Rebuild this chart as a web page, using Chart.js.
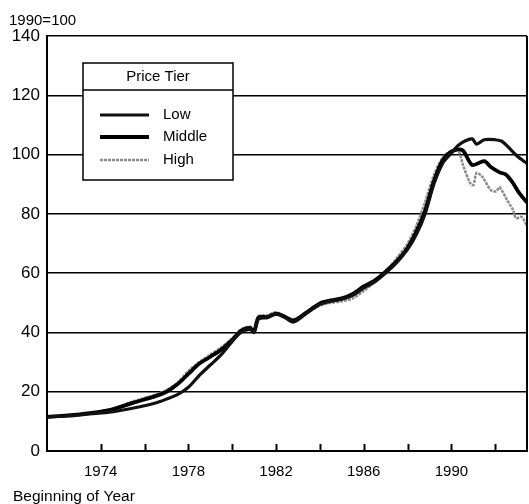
<!DOCTYPE html>
<html>
<head>
<meta charset="utf-8">
<script src="https://cdn.jsdelivr.net/npm/chart.js@4"></script>
<style>
  body { margin: 0; background: #fff; }
  #wrap { width: 529px; height: 504px; }
</style>
</head>
<body>
<div id="wrap"><canvas id="tierChart" width="529" height="504"></canvas></div>
<script>
// Price index by tier, 1990=100
const lowYears = [1971.55, 1972.5, 1973.5, 1974.5, 1975.5, 1976.5, 1977.0, 1977.5, 1978.0, 1978.5, 1979.0, 1979.5, 1980.0, 1980.4, 1980.8, 1981.0, 1981.2, 1981.6, 1982.0, 1982.4, 1982.8, 1983.4, 1984.0, 1984.5, 1985.0, 1985.5, 1986.0, 1986.5, 1987.0, 1987.5, 1988.0, 1988.4, 1988.8, 1989.2, 1989.6, 1990.0, 1990.3, 1990.6, 1990.95, 1991.15, 1991.5, 1992.0, 1992.3, 1992.6, 1993.0, 1993.45];
const lowValues = [11.5, 11.8, 12.5, 13.2, 14.5, 16.2, 17.5, 19.0, 21.5, 25.5, 29, 32.5, 37, 40, 41, 40, 44.5, 45, 46.3, 45, 43.5, 46.5, 49.5, 50.5, 51.2, 52.5, 55, 57, 60, 63.5, 68, 73, 80, 90, 97, 100.5, 103, 104.5, 105.3, 103.5, 105, 105, 104.5, 102.5, 99.5, 97];

const middleYears = [1971.55, 1972.5, 1973.5, 1974.5, 1975.5, 1976.5, 1977.0, 1977.5, 1978.0, 1978.5, 1979.0, 1979.5, 1980.0, 1980.4, 1980.8, 1981.0, 1981.2, 1981.6, 1982.0, 1982.4, 1982.8, 1983.4, 1984.0, 1984.5, 1985.0, 1985.5, 1986.0, 1986.5, 1987.0, 1987.5, 1988.0, 1988.4, 1988.8, 1989.2, 1989.6, 1990.0, 1990.5, 1990.95, 1991.5, 1991.8, 1992.2, 1992.5, 1992.8, 1993.1, 1993.45];
const middleValues = [11.5, 12, 12.8, 14, 16.3, 18.5, 20, 22.5, 26, 29.5, 31.8, 34.2, 37.5, 40.5, 41.5, 40.5, 45, 45.2, 46.3, 45.3, 44, 46.8, 49.8, 50.8, 51.5, 53, 55.5, 57.5, 60.5, 64, 68.5, 74, 81, 91, 98, 101, 101.5, 96.5, 97.8, 95.8, 94, 93.2, 90.5, 87, 83.8];

const highYears = [1971.55, 1972.5, 1973.5, 1974.5, 1975.5, 1976.5, 1977.0, 1977.5, 1978.0, 1978.5, 1979.0, 1979.5, 1980.0, 1980.4, 1980.8, 1981.0, 1981.2, 1981.6, 1982.0, 1982.4, 1982.8, 1983.4, 1984.0, 1984.5, 1985.0, 1985.5, 1986.0, 1986.5, 1987.0, 1987.5, 1988.0, 1988.4, 1988.8, 1989.2, 1989.6, 1990.0, 1990.3, 1990.55, 1990.85, 1991.0, 1991.15, 1991.4, 1991.8, 1992.05, 1992.2, 1992.55, 1992.8, 1992.95, 1993.2, 1993.45];
const highValues = [11.5, 12, 12.8, 14.2, 16.8, 19, 20.5, 23, 27, 30, 32.5, 35, 38, 41, 42, 41, 45.5, 45.8, 46.8, 45.5, 44.5, 46.5, 49, 50, 50.5, 51.5, 54, 57, 60.5, 65, 70, 76, 84, 93, 99, 101.3, 101.5, 96, 90.5, 89.7, 93.8, 92.6, 88, 87.6, 89, 84.5, 81.5, 78.5, 79, 75.8];

const tierLabels = ['Low', 'Middle', 'High'];
const tickYears = [1974, 1976, 1978, 1980, 1982, 1984, 1986, 1988, 1990, 1992];
const labelYears = [1974, 1978, 1982, 1986, 1990];
const yTicks = [0, 20, 40, 60, 80, 100, 120, 140];

const FONT = 'Liberation Sans, Arial, Helvetica, sans-serif';

function toPoints(xs, ys) {
    return xs.map((x, i) => ({ x: x, y: ys[i] }));
}

// Boxed legend, outer titles, inward ticks and right frame
const decorations = {
    id: 'decorations',
    afterDraw(chart) {
        const ctx = chart.ctx;
        const area = chart.chartArea;
        const xScale = chart.scales.x;
        ctx.save();

        // ticks pointing up from the x axis
        ctx.strokeStyle = '#000';
        ctx.lineWidth = 2;
        tickYears.forEach(yr => {
            const px = Math.round(xScale.getPixelForValue(yr)) + 0.5;
            ctx.beginPath();
            ctx.moveTo(px, area.bottom);
            ctx.lineTo(px, area.bottom - 7);
            ctx.stroke();
        });

        // right frame line
        ctx.lineWidth = 2;
        ctx.beginPath();
        ctx.moveTo(area.right, area.top);
        ctx.lineTo(area.right, area.bottom);
        ctx.stroke();

        // texts outside the plot
        ctx.fillStyle = '#000';
        ctx.font = '15px ' + FONT;
        ctx.textAlign = 'left';
        ctx.textBaseline = 'middle';
        ctx.fillText('1990=100', 9, 21);
        ctx.font = '15.5px ' + FONT;
        ctx.fillText('Beginning of Year', 13, 497);

        // legend box
        const bx = 83, by = 63, bw = 150, bh = 117;
        ctx.fillStyle = '#fff';
        ctx.fillRect(bx, by, bw, bh);
        ctx.strokeStyle = '#000';
        ctx.lineWidth = 1.5;
        ctx.strokeRect(bx, by, bw, bh);
        ctx.beginPath();
        ctx.moveTo(bx, by + 27);
        ctx.lineTo(bx + bw, by + 27);
        ctx.stroke();

        ctx.fillStyle = '#000';
        ctx.font = '15px ' + FONT;
        ctx.textAlign = 'center';
        ctx.fillText('Price Tier', bx + bw / 2, by + 14);

        const rows = [115, 137, 160];
        chart.data.datasets.forEach((ds, i) => {
            const y = rows[i];
            ctx.strokeStyle = ds.borderColor;
            ctx.lineWidth = ds.borderWidth;
            ctx.setLineDash(ds.borderDash || []);
            ctx.beginPath();
            ctx.moveTo(100, y);
            ctx.lineTo(149, y);
            ctx.stroke();
            ctx.setLineDash([]);
            ctx.fillStyle = '#000';
            ctx.textAlign = 'left';
            ctx.fillText(ds.label, 163, y);
        });

        ctx.restore();
    }
};

const ctx = document.getElementById('tierChart');
new Chart(ctx, {
    type: 'line',
    data: {
        datasets: [
            {
                label: tierLabels[0],
                data: toPoints(lowYears, lowValues),
                borderColor: '#111',
                borderWidth: 3.2,
                tension: 0.3
            },
            {
                label: tierLabels[1],
                data: toPoints(middleYears, middleValues),
                borderColor: '#000',
                borderWidth: 3.8,
                tension: 0.3
            },
            {
                label: tierLabels[2],
                data: toPoints(highYears, highValues),
                borderColor: '#8c8c8c',
                borderWidth: 2.5,
                borderDash: [3, 1],
                tension: 0.3
            }
        ]
    },
    options: {
        responsive: false,
        animation: false,
        devicePixelRatio: 1,
        layout: { padding: { top: 36, right: 2, bottom: 18, left: 0 } },
        elements: { point: { radius: 0 } },
        plugins: {
            legend: { display: false },
            tooltip: { enabled: false }
        },
        scales: {
            x: {
                type: 'linear',
                min: 1971.55,
                max: 1993.45,
                afterFit(axis) { axis.height = 35; },
                afterBuildTicks(axis) {
                    axis.ticks = tickYears.map(v => ({ value: v }));
                },
                ticks: {
                    autoSkip: false,
                    maxRotation: 0,
                    padding: 12,
                    color: '#000',
                    font: { family: FONT, size: 15 },
                    callback: v => labelYears.includes(v) ? String(v) : ''
                },
                grid: { drawOnChartArea: false, drawTicks: false },
                border: { color: '#000', width: 2 }
            },
            y: {
                min: 0,
                max: 140,
                afterFit(axis) { axis.width = 47; },
                afterBuildTicks(axis) {
                    axis.ticks = yTicks.map(v => ({ value: v }));
                },
                ticks: {
                    padding: 7,
                    color: '#000',
                    font: { family: FONT, size: 17 }
                },
                grid: { color: '#000', lineWidth: 1.5, drawTicks: false },
                border: { color: '#000', width: 2 }
            }
        }
    },
    plugins: [decorations]
});
</script>
</body>
</html>
